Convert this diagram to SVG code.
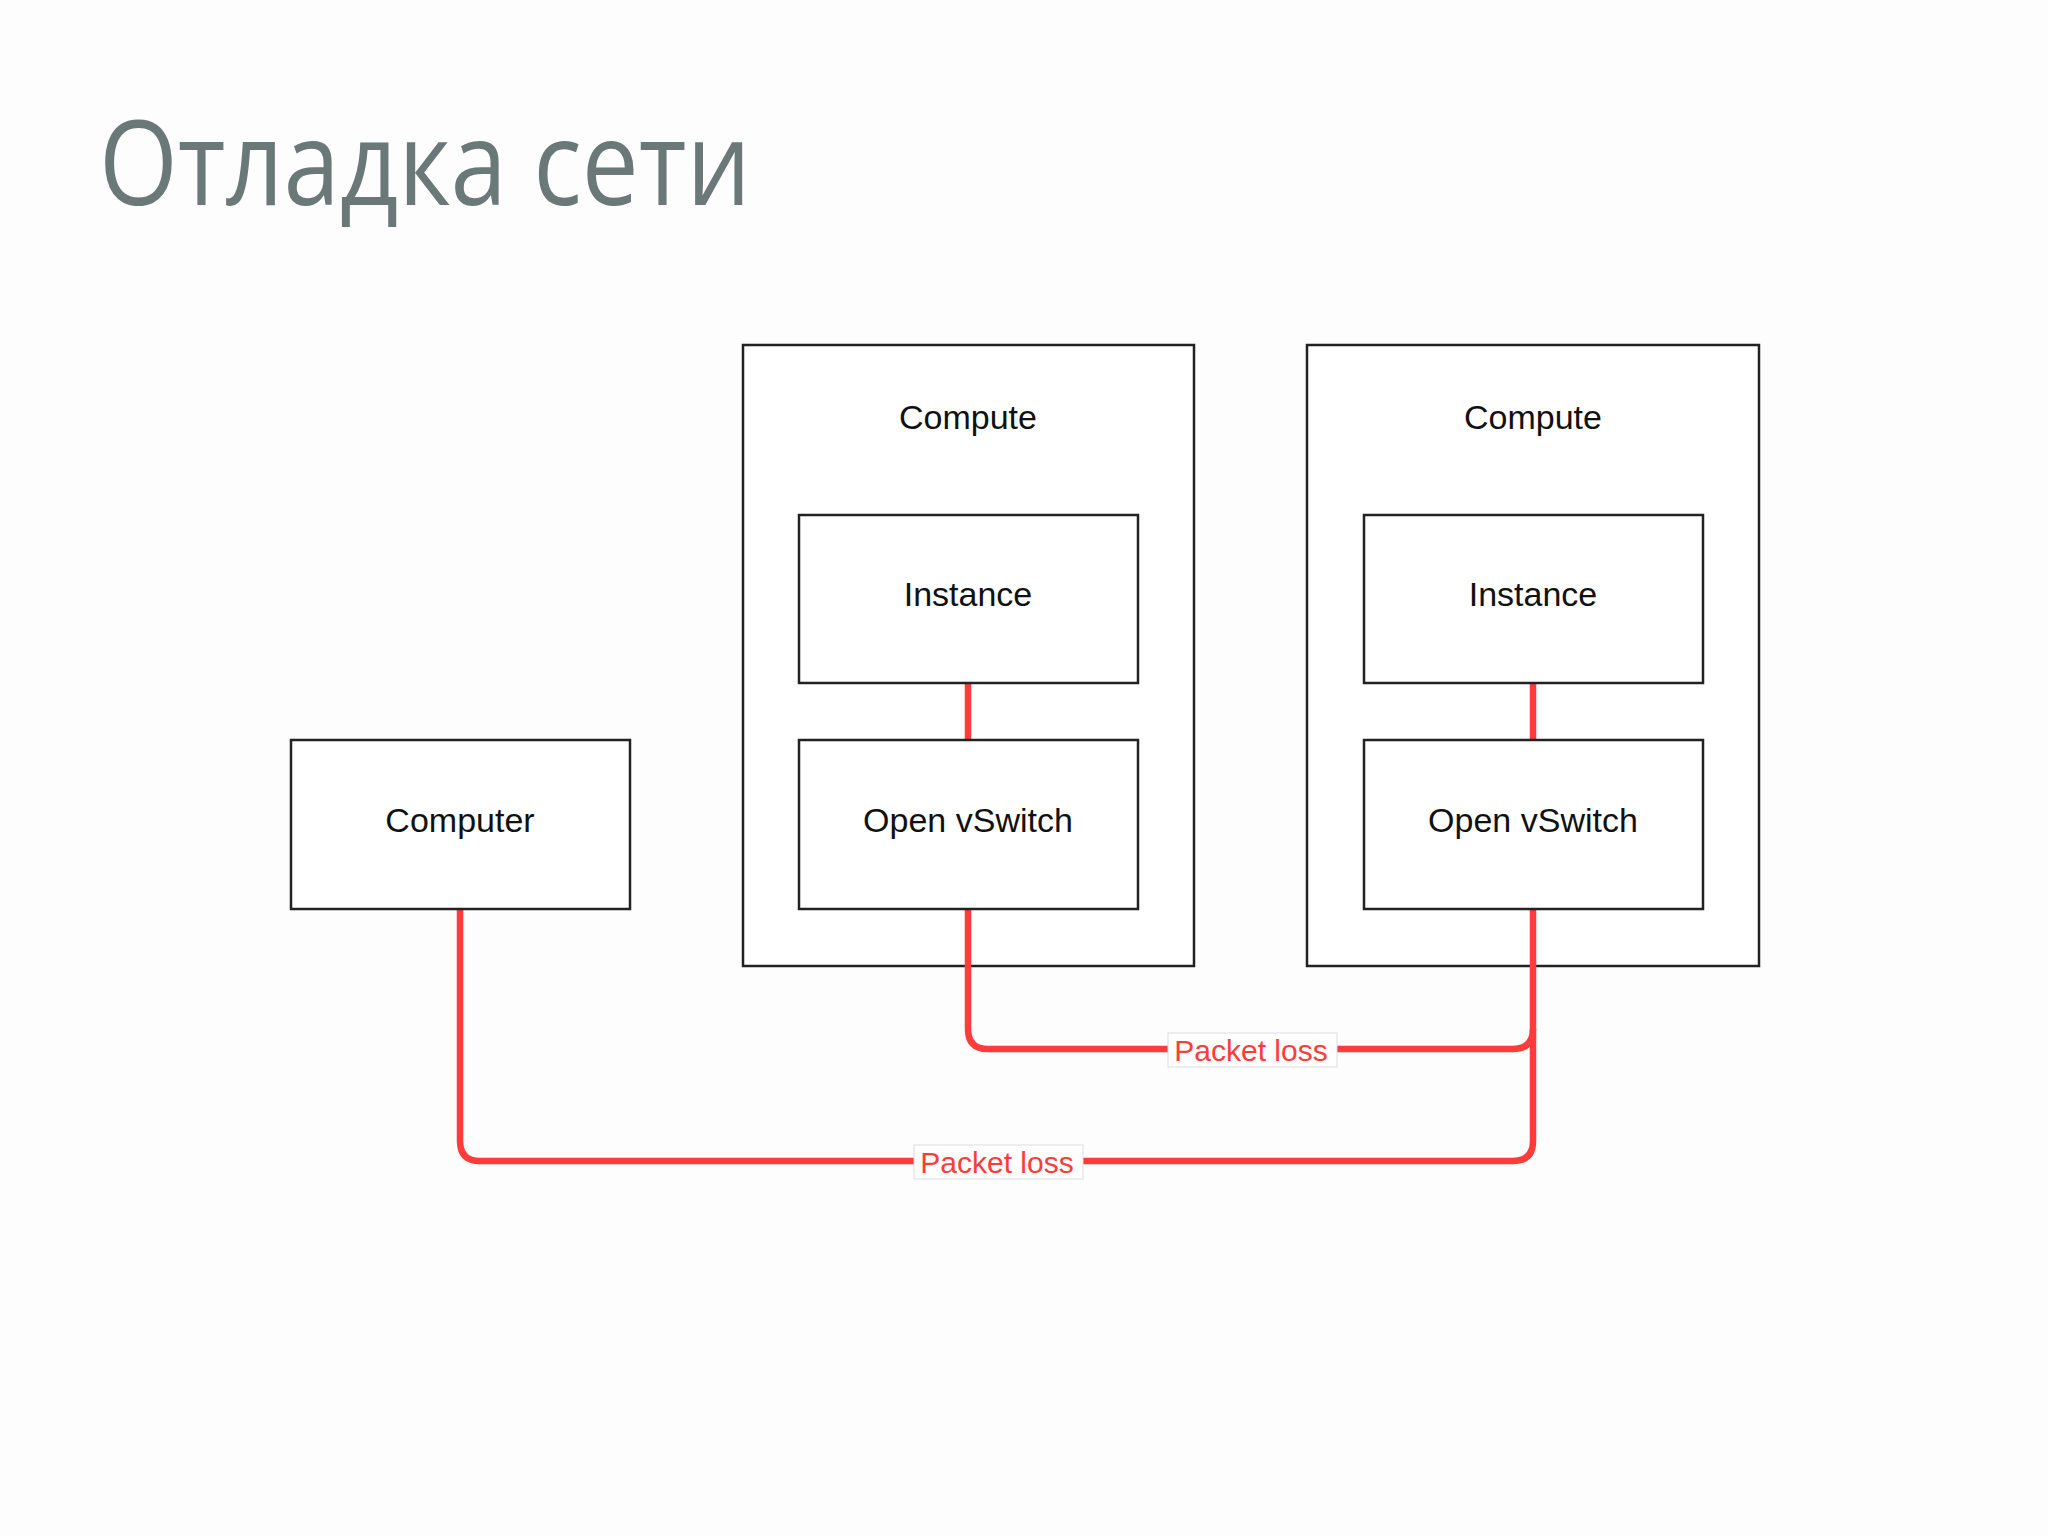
<svg xmlns="http://www.w3.org/2000/svg" width="2048" height="1536" viewBox="0 0 2048 1536">
<style>
.box{fill:#fff;stroke:#222;stroke-width:2.5}
.t{font-family:"Liberation Sans",Arial,sans-serif;font-size:34px;fill:#111;text-anchor:middle;dominant-baseline:central}
.w{fill:none;stroke:#ff3b3b;stroke-width:6.5;stroke-linejoin:round}
.lb{font-family:"Liberation Sans",Arial,sans-serif;font-size:30px;fill:#ff3b3b;text-anchor:middle;dominant-baseline:central}
.lbg{fill:#fff;stroke:#ddd;stroke-width:1}
</style>
<rect width="2048" height="1536" fill="#fdfdfd"/>
<text x="99" y="205" font-family="'Open Sans','Noto Sans',sans-serif" font-size="118" fill="#6b7878" textLength="652" lengthAdjust="spacingAndGlyphs">Отладка сети</text>
<g id="compute1"><rect class="box" x="743" y="345" width="451" height="621"/><text class="t" x="968" y="417">Compute</text></g>
<g id="compute2"><rect class="box" x="1307" y="345" width="452" height="621"/><text class="t" x="1533" y="417">Compute</text></g>
<g id="connectors">
<path class="w" d="M968 683V740"/>
<path class="w" d="M1533 683V740"/>
<path class="w" d="M968 909V1029Q968 1049 988 1049H1513Q1533 1049 1533 1029V909"/>
<path class="w" d="M460 909V1141Q460 1161 480 1161H1513Q1533 1161 1533 1141V1029"/>
<rect class="lbg" x="1168" y="1033" width="169" height="34"/><text class="lb" x="1251" y="1050">Packet loss</text>
<rect class="lbg" x="914" y="1145" width="169" height="34"/><text class="lb" x="997" y="1162">Packet loss</text>
</g>
<g id="instance1"><rect class="box" x="799" y="515" width="339" height="168"/><text class="t" x="968" y="594">Instance</text></g>
<g id="instance2"><rect class="box" x="1364" y="515" width="339" height="168"/><text class="t" x="1533" y="594">Instance</text></g>
<g id="ovs1"><rect class="box" x="799" y="740" width="339" height="169"/><text class="t" x="968" y="820">Open vSwitch</text></g>
<g id="ovs2"><rect class="box" x="1364" y="740" width="339" height="169"/><text class="t" x="1533" y="820">Open vSwitch</text></g>
<g id="computer"><rect class="box" x="291" y="740" width="339" height="169"/><text class="t" x="460" y="820">Computer</text></g>
</svg>
